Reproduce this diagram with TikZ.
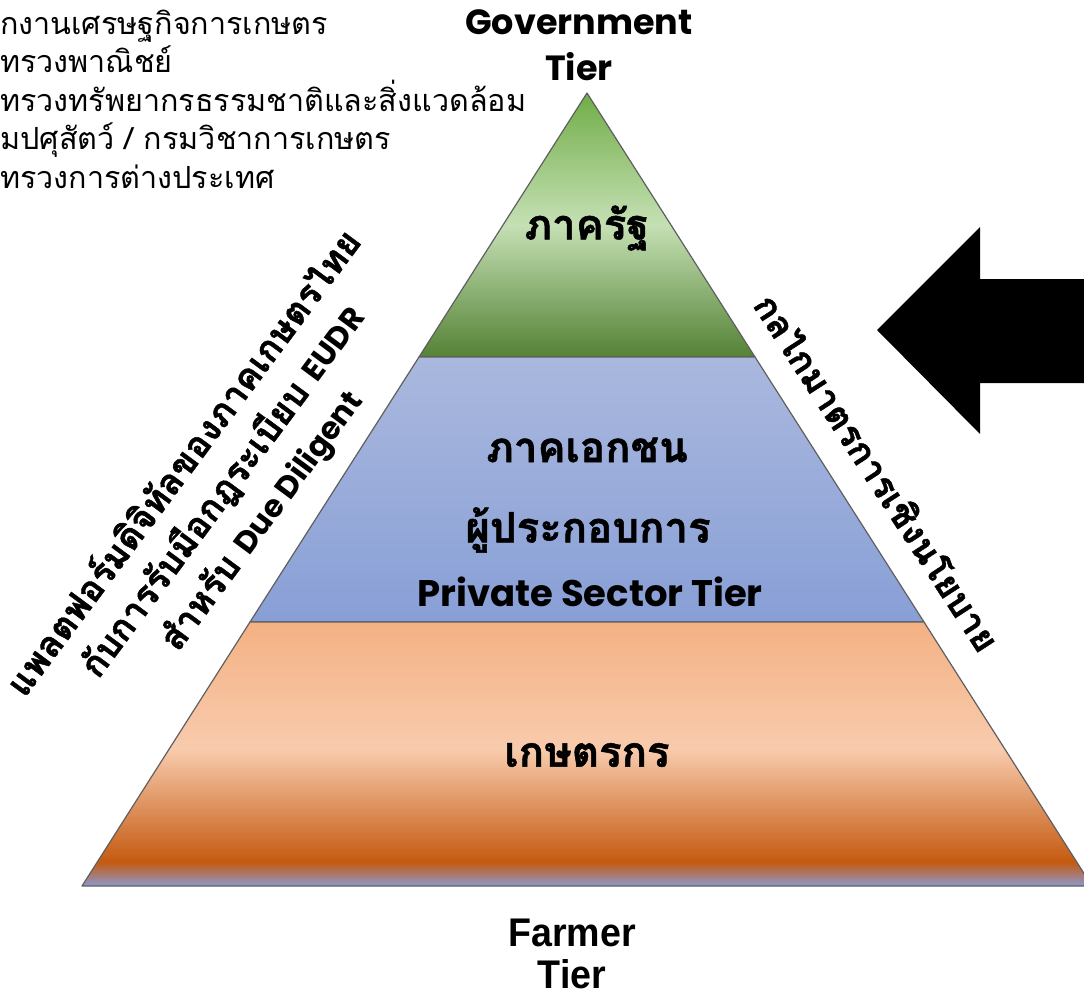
\documentclass[tikz,border=0pt]{standalone}
\usepackage{fontspec}
\usepackage{graphicx}
\newfontfamily\thaifont[Script=Thai, BoldFeatures={FakeBold=1.2}]{Loma}
\newfontfamily\latinfont{Poppins}
\newfontfamily\narrowfont{Liberation Sans}

\definecolor{govtop}{RGB}{112,173,71}
\definecolor{govmid}{RGB}{197,224,180}
\definecolor{govbot}{RGB}{84,130,53}
\definecolor{privtop}{RGB}{170,184,222}
\definecolor{privbot}{RGB}{136,159,214}
\definecolor{farmtop}{RGB}{244,177,131}
\definecolor{farmmid}{RGB}{248,203,173}
\definecolor{farmdark}{RGB}{197,90,17}
\definecolor{farmbase}{RGB}{140,152,205}
\definecolor{tieredge}{RGB}{95,95,95}

\pgfdeclareverticalshading{govshade}{100bp}{color(0bp)=(govbot); color(25bp)=(govbot); color(50bp)=(govmid); color(75bp)=(govtop); color(100bp)=(govtop)}
\pgfdeclareverticalshading{farmshade}{100bp}{color(0bp)=(farmbase); color(25bp)=(farmbase); color(29.5bp)=(farmdark); color(51bp)=(farmmid); color(75bp)=(farmtop); color(100bp)=(farmtop)}

\begin{document}
\begin{tikzpicture}[x=1pt, y=-1pt,
    tier/.style={draw=tieredge, line width=1.2pt, line join=round},
    tierlabel/.style={font=\thaifont\bfseries\fontsize{42}{48}\selectfont, inner sep=0pt},
    tiername/.style={font=\latinfont\bfseries\fontsize{35}{46}\selectfont, align=center, inner sep=0pt},
    sidetext/.style={font=\thaifont\bfseries\fontsize{36}{48}\selectfont, align=center, inner sep=0pt}]
  \useasboundingbox (0,0) rectangle (1084,991);

  % Pyramid corners
  \coordinate (apex) at (587,93);
  \coordinate (gl) at (419,357);
  \coordinate (gr) at (755,357);
  \coordinate (pl) at (250,622);
  \coordinate (pr) at (924,622);
  \coordinate (bl) at (82,886);
  \coordinate (br) at (1092,886);

  % Tiers
  \shadedraw[tier, shading=govshade] (apex) -- (gr) -- (gl) -- cycle;
  \shadedraw[tier, top color=privtop, bottom color=privbot] (gl) -- (gr) -- (pr) -- (pl) -- cycle;
  \shadedraw[tier, shading=farmshade] (pl) -- (pr) -- (br) -- (bl) -- cycle;

  % Tier texts
  \node[tiername] (govtier) at (579,45) {Government\\Tier};
  \node[tierlabel] (gov) at (587,228) {ภาครัฐ};
  \node[tierlabel] (priv) at (587,450) {ภาคเอกชน};
  \node[tierlabel] (oper) at (588,530) {ผู้ประกอบการ};
  \node[tiername, font=\latinfont\bfseries\fontsize{37}{46}\selectfont] (privtier) at (590,592) {Private Sector Tier};
  \node[tierlabel] (farm) at (587,755) {เกษตรกร};
  \node[font=\narrowfont\bfseries\fontsize{40}{42}\selectfont, align=center, inner sep=0pt] (farmtier) at (572,954)
    {\scalebox{0.94}[1]{Farmer}\\\scalebox{0.94}[1]{Tier}};

  % Agencies (cut at the left edge)
  \node[anchor=north west, align=left, inner sep=0pt, font=\thaifont\fontsize{30.5}{38.5}\selectfont] (agencies) at (0,9)
    {\llap{สำนั}กงานเศรษฐกิจการเกษตร\\
     \llap{กระ}ทรวงพาณิชย์\\
     \llap{กระ}ทรวงทรัพยากรธรรมชาติและสิ่งแวดล้อม\\
     \llap{กร}มปศุสัตว์ / กรมวิชาการเกษตร\\
     \llap{กระ}ทรวงการต่างประเทศ};

  % Side texts
  \node[sidetext, rotate=53.5] (platform) at (223,492)
    {แพลตฟอร์มดิจิทัลของภาคเกษตรไทย\\
     กับการรับมือกฎระเบียบ {\latinfont\bfseries\fontsize{31}{48}\selectfont EUDR}\\
     สำหรับ {\latinfont\bfseries\fontsize{31}{48}\selectfont Due Diligent}};
  \node[sidetext, rotate=-57] (policy) at (878,472) {กลไกมาตรการเชิงนโยบาย};

  % Policy arrow
  \coordinate (tip) at (877,330);
  \fill (tip) -- (980,227) -- (980,279) -- (1100,279) -- (1100,383) -- (980,383) -- (980,434) -- cycle;

\end{tikzpicture}
\end{document}
